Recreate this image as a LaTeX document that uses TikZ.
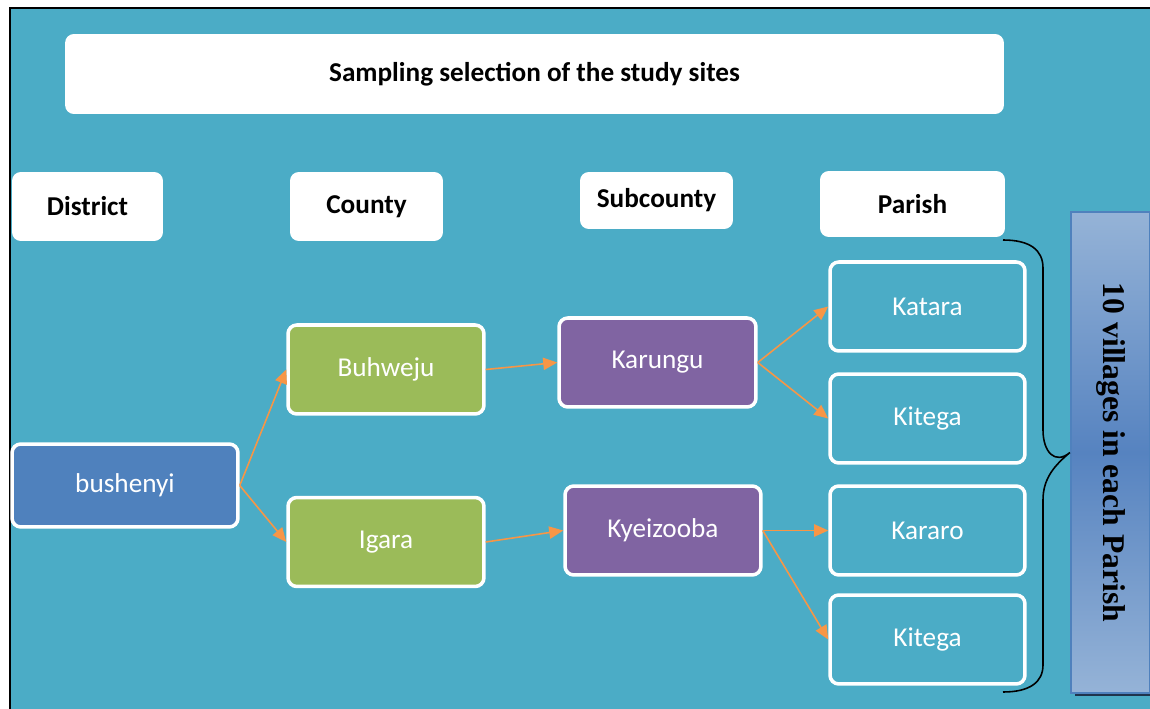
\documentclass[tikz,border=0pt]{standalone}
\usepackage{fontspec}
\setmainfont{Carlito}
\newfontfamily\villagefont{Liberation Serif}
\usetikzlibrary{positioning,arrows.meta,shadows}
\definecolor{sitebg}{HTML}{4BACC6}
\definecolor{districtblue}{HTML}{4F81BD}
\definecolor{countygreen}{HTML}{9BBB59}
\definecolor{subpurple}{HTML}{8064A2}
\definecolor{linkorange}{HTML}{F79646}
\definecolor{notelight}{HTML}{95B3D7}
\definecolor{notedark}{HTML}{5683C0}
\tikzset{>={Triangle[length=8pt,width=7pt]}}

\begin{document}
\begin{tikzpicture}[x=0.02cm,y=-0.02cm]
    \fontsize{15.5}{18}\selectfont
    \tikzset{
    header/.style={fill=white, rounded corners=5pt, inner sep=0pt, font=\bfseries},
    site/.style={draw=white, line width=2pt, rounded corners=5pt, text=white, minimum width=3.92cm, minimum height=1.78cm, inner sep=0pt},
    link/.style={draw=linkorange, line width=0.9pt, ->},
    }

    \useasboundingbox (0,0) rectangle (1150,709);

    % Backdrop.
    \fill [sitebg] (10,8) rectangle (1150,709);
    \draw [black, line width=1pt] (10,709) -- (10,8) -- (1150,8);

    % Header row.
    \node [header, minimum width=18.78cm, minimum height=1.6cm] (title)     at (534.5,74)  {Sampling selection of the study sites};
    \node [header, minimum width=3.02cm,  minimum height=1.38cm] (district)  at (87.5,206.5) {District};
    \node [header, minimum width=3.06cm,  minimum height=1.38cm] (county)    at (366.5,206.5) {County};
    \node [header, minimum width=3.06cm,  minimum height=1.14cm] (subcounty) at (656.5,200.5) {Subcounty};
    \node [header, minimum width=3.7cm,   minimum height=1.32cm] (parish)    at (912.5,204) {Parish};

    % Sites.
    \node [site, fill=districtblue, minimum width=4.52cm, minimum height=1.66cm] (bushenyi) at (125,485.5) {bushenyi};
    \node [site, fill=countygreen] (buhweju)   at (386,369.5) {Buhweju};
    \node [site, fill=countygreen] (igara)     at (386,542)   {Igara};
    \node [site, fill=subpurple, minimum width=3.94cm] (karungu)   at (657.5,362.5) {Karungu};
    \node [site, fill=subpurple]   (kyeizooba) at (663,530.5) {Kyeizooba};
    \node [site, fill=sitebg, minimum width=3.9cm] (katara)  at (927.5,306.5) {Katara};
    \node [site, fill=sitebg, minimum width=3.9cm] (kitega)  at (927.5,418.5) {Kitega};
    \node [site, fill=sitebg, minimum width=3.9cm] (kararo)  at (927.5,530.5) {Kararo};
    \node [site, fill=sitebg, minimum width=3.9cm] (kitegaa) at (927.5,639.5) {Kitega};

    % Villages note.
    \node [draw=districtblue, line width=1.2pt, top color=notelight, bottom color=notelight, middle color=notedark,
           minimum width=1.58cm, minimum height=9.62cm,
           drop shadow={opacity=1, fill=black!60!districtblue, shadow xshift=2pt, shadow yshift=-2pt}]
           (villages) at (1110.5,452.5) {};
    \node [rotate=-90, font=\villagefont\bfseries\fontsize{18}{20}\selectfont] (villagetext) at (villages.center) {10 villages in each Parish};

    % Brace.
    \coordinate (bracetop) at (1003,240);
    \coordinate (bracetip) at (villages.west);
    \coordinate (bracebot) at (1003,692);
    \draw [black, line width=0.9pt] (bracetop) .. controls (1030,240) and (1043,250) .. (1043,268) -- (1043,430)
        .. controls (1043,452) and (1055,465) .. (bracetip)
        .. controls (1055,465) and (1043,478) .. (1043,500) -- (1043,665)
        .. controls (1043,682) and (1030,692) .. (bracebot);

    % Connections.
    \draw [link] (bushenyi.east)  -- (buhweju.west);
    \draw [link] (bushenyi.east)  -- (igara.west);
    \draw [link] (buhweju.east)   -- (karungu.west);
    \draw [link] (igara.east)     -- (kyeizooba.west);
    \draw [link] (karungu.east)   -- (katara.west);
    \draw [link] (karungu.east)   -- (kitega.west);
    \draw [link] (kyeizooba.east) -- (kararo.west);
    \draw [link] (kyeizooba.east) -- (kitegaa.west);
\end{tikzpicture}
\end{document}
